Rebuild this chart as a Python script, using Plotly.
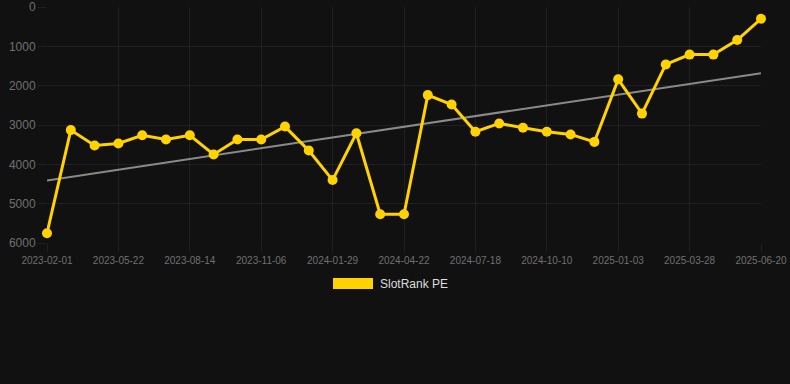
import numpy as np
import plotly.graph_objects as go

dates = ["2023-02-01", "2023-03-08", "2023-04-15", "2023-05-22", "2023-06-19", "2023-07-17",
         "2023-08-14", "2023-09-11", "2023-10-09", "2023-11-06", "2023-12-04", "2024-01-01",
         "2024-01-29", "2024-02-26", "2024-03-25", "2024-04-22", "2024-05-20", "2024-06-20",
         "2024-07-18", "2024-08-15", "2024-09-12", "2024-10-10", "2024-11-07", "2024-12-06",
         "2025-01-03", "2025-01-31", "2025-02-28", "2025-03-28", "2025-04-25", "2025-05-23",
         "2025-06-20"]
rank_pe = [5750, 3130, 3520, 3470, 3260, 3370, 3260, 3750, 3370, 3370, 3040, 3650,
           4400, 3210, 5270, 5270, 2240, 2480, 3170, 2960, 3070, 3170, 3240, 3430,
           1840, 2710, 1460, 1210, 1210, 840, 300]
tick_dates = dates[::3]
y_ticks = [0, 1000, 2000, 3000, 4000, 5000, 6000]

series_name = "SlotRank PE"
gold = "#FFD200"
bg = "#111111"
grid = "#202020"

idx = np.arange(len(rank_pe))
slope, intercept = np.polyfit(idx, rank_pe, 1)
trend = (slope * idx + intercept).tolist()

fig = go.Figure()
fig.add_trace(go.Scatter(x=dates, y=trend, mode="lines",
                         line=dict(color="#8a8a8a", width=2), showlegend=False,
                         hoverinfo="skip", cliponaxis=False))
fig.add_trace(go.Scatter(x=dates, y=rank_pe, mode="lines+markers", name=series_name,
                         line=dict(color=gold, width=3),
                         marker=dict(color=gold, size=10),
                         showlegend=False, cliponaxis=False))

fig.update_layout(
    width=790, height=384,
    paper_bgcolor=bg, plot_bgcolor=bg,
    margin=dict(l=47, r=29, t=7, b=141),
    font=dict(family="Liberation Sans, Arial, sans-serif", color="#707070"),
    xaxis=dict(type="category", range=[0, len(dates) - 1],
               tickmode="array", tickvals=tick_dates, ticktext=tick_dates,
               showgrid=True, gridcolor=grid, gridwidth=1,
               ticks="outside", ticklen=8, tickcolor=grid,
               tickfont=dict(size=10, color="#707070"),
               zeroline=False, showline=False, automargin=False),
    yaxis=dict(range=[6000, 0], tickmode="array", tickvals=y_ticks,
               showgrid=True, gridcolor=grid, gridwidth=1,
               ticks="outside", ticklen=8, tickcolor=grid,
               tickfont=dict(size=12, color="#707070"),
               zeroline=False, showline=False, automargin=False),
    showlegend=False,
)

# legend (Chart.js-style box)
fig.add_shape(type="rect", xref="paper", yref="paper",
              x0=(333 - 47) / 714, x1=(373 - 47) / 714,
              y0=(243 - 289) / 236.5, y1=(243 - 278) / 236.5,
              fillcolor=gold, line=dict(width=0))
fig.add_annotation(xref="paper", yref="paper", x=(378 - 47) / 714, y=(243 - 284) / 236.5,
                   text=series_name, showarrow=False, xanchor="left", yanchor="middle",
                   font=dict(size=12, color="#dddddd"))

fig.write_html("out.html", config={"displayModeBar": False},
               post_script="document.body.style.margin='0';document.body.style.background='#111111';")
